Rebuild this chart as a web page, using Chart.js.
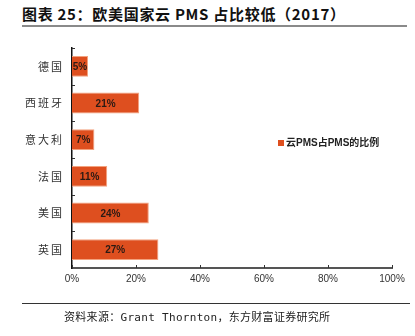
<!DOCTYPE html>
<html>
<head>
<meta charset="utf-8">
<script src="https://cdn.jsdelivr.net/npm/chart.js@4/dist/chart.umd.min.js"></script>
<style>
  html, body { margin: 0; padding: 0; background: #fff; }
  #wrap { position: relative; width: 415px; height: 336px; overflow: hidden; }
  #myChart { position: absolute; left: 0; top: 0; }
  .title { position: absolute; left: 22px; top: 3px; font: bold 15px "Noto Sans CJK SC", sans-serif; letter-spacing: 0.7px; color: #111; white-space: nowrap; }
  .rule1 { position: absolute; left: 22px; top: 25px; width: 385px; height: 2px; background: #8a8a8a; }
  .rule2 { position: absolute; left: 22px; top: 303px; width: 388px; height: 1px; background: #333; }
  .source { position: absolute; left: 64px; top: 308px; font: 11px "DejaVu Sans Mono", "Noto Sans CJK SC", monospace; letter-spacing: 0.3px; color: #222; white-space: nowrap; }
</style>
</head>
<body>
<div id="wrap">
  <div class="title">图表 25：欧美国家云 PMS 占比较低（2017）</div>
  <div class="rule1"></div>
  <canvas id="myChart" width="415" height="336"></canvas>
  <div class="rule2"></div>
  <div class="source">资料来源：Grant Thornton，东方财富证券研究所</div>
</div>
<script>
//countries, top to bottom
var countries = ["德国", "西班牙", "意大利", "法国", "美国", "英国"];
//share of cloud PMS in all PMS (%)
var cloudShare = [5, 21, 7, 11, 24, 27];
var seriesName = "云PMS占PMS的比例";
var xTicks = [0, 20, 40, 60, 80, 100];

var barColor = "#de4f1f";
var narrow = "'Liberation Sans Narrow', 'Arial Narrow', sans-serif";

//small ticks pointing into the plot, plus the value labels and the legend
var extras = {
    id: 'extras',
    beforeDraw: function (chart) {
        //wider spacing for the country names (y labels are drawn before the bars)
        chart.ctx.letterSpacing = "2px";
    },
    beforeDatasetsDraw: function (chart) {
        chart.ctx.letterSpacing = "0px";
    },
    afterDatasetsDraw: function (chart) {
        var c = chart.ctx;
        var xs = chart.scales.x;
        var ys = chart.scales.y;
        var area = chart.chartArea;
        c.save();
        c.letterSpacing = "0px";
        c.strokeStyle = "#333";
        c.lineWidth = 1;
        //x ticks
        xTicks.forEach(function (v) {
            var px = Math.round(xs.getPixelForValue(v)) + 0.5;
            c.beginPath();
            c.moveTo(px, area.bottom);
            c.lineTo(px, area.bottom - 3);
            c.stroke();
        });
        //y ticks at category boundaries
        var step = ys.getPixelForValue(1) - ys.getPixelForValue(0);
        for (var i = 0; i < countries.length; i++) {
            var py = Math.round(ys.getPixelForValue(i) - step / 2) + 0.5;
            c.beginPath();
            c.moveTo(area.left, py);
            c.lineTo(area.left + 3, py);
            c.stroke();
        }
        //value labels
        c.fillStyle = "#2a1a14";
        c.font = "bold 10px " + narrow;
        c.textAlign = "center";
        c.textBaseline = "middle";
        chart.getDatasetMeta(0).data.forEach(function (bar, idx) {
            var mid = (bar.x + bar.base) / 2;
            c.fillText(cloudShare[idx] + "%", mid, bar.y + 1);
        });
        //legend inside the plot
        c.fillStyle = barColor;
        c.fillRect(278, 140, 6, 6);
        c.fillStyle = "#222";
        c.textAlign = "left";
        c.font = "bold 10px " + narrow + ", 'Noto Sans CJK SC'";
        c.fillText(seriesName, 286, 143);
        c.restore();
    }
};

function main() {
    var ctx = document.getElementById("myChart").getContext("2d");
    new Chart(ctx, {
        type: 'bar',
        data: {
            labels: countries,
            datasets: [
                {
                    label: seriesName,
                    data: cloudShare,
                    backgroundColor: barColor,
                    borderColor: "#f3a27e",
                    borderWidth: 1,
                    borderSkipped: 'left',
                    categoryPercentage: 1,
                    barPercentage: 0.57
                }]
        },
        options: {
            indexAxis: 'y',
            responsive: false,
            animation: false,
            layout: {
                padding: {top: 48, right: 23, bottom: 0, left: 0}
            },
            plugins: {
                legend: {display: false},
                tooltip: {enabled: false}
            },
            scales: {
                x: {
                    min: 0,
                    max: 100,
                    afterFit: function (s) { s.height = 68; },
                    afterBuildTicks: function (s) {
                        s.ticks = xTicks.map(function (v) { return {value: v}; });
                    },
                    ticks: {
                        //drawn after the bars, with normal spacing
                        z: 1,
                        padding: 5,
                        color: "#333",
                        font: {family: narrow, size: 10},
                        callback: function (v) { return v + "%"; }
                    },
                    grid: {display: false, drawTicks: false},
                    border: {display: true, color: "#555", width: 2}
                },
                y: {
                    afterFit: function (s) { s.width = 72; },
                    ticks: {
                        padding: 8,
                        color: "#333",
                        font: {family: "'Noto Sans CJK SC', sans-serif", size: 11}
                    },
                    grid: {display: false, drawTicks: false},
                    border: {display: true, color: "#111", width: 1.5}
                }
            }
        },
        plugins: [extras]
    });
}

window.onload = main;
</script>
</body>
</html>
